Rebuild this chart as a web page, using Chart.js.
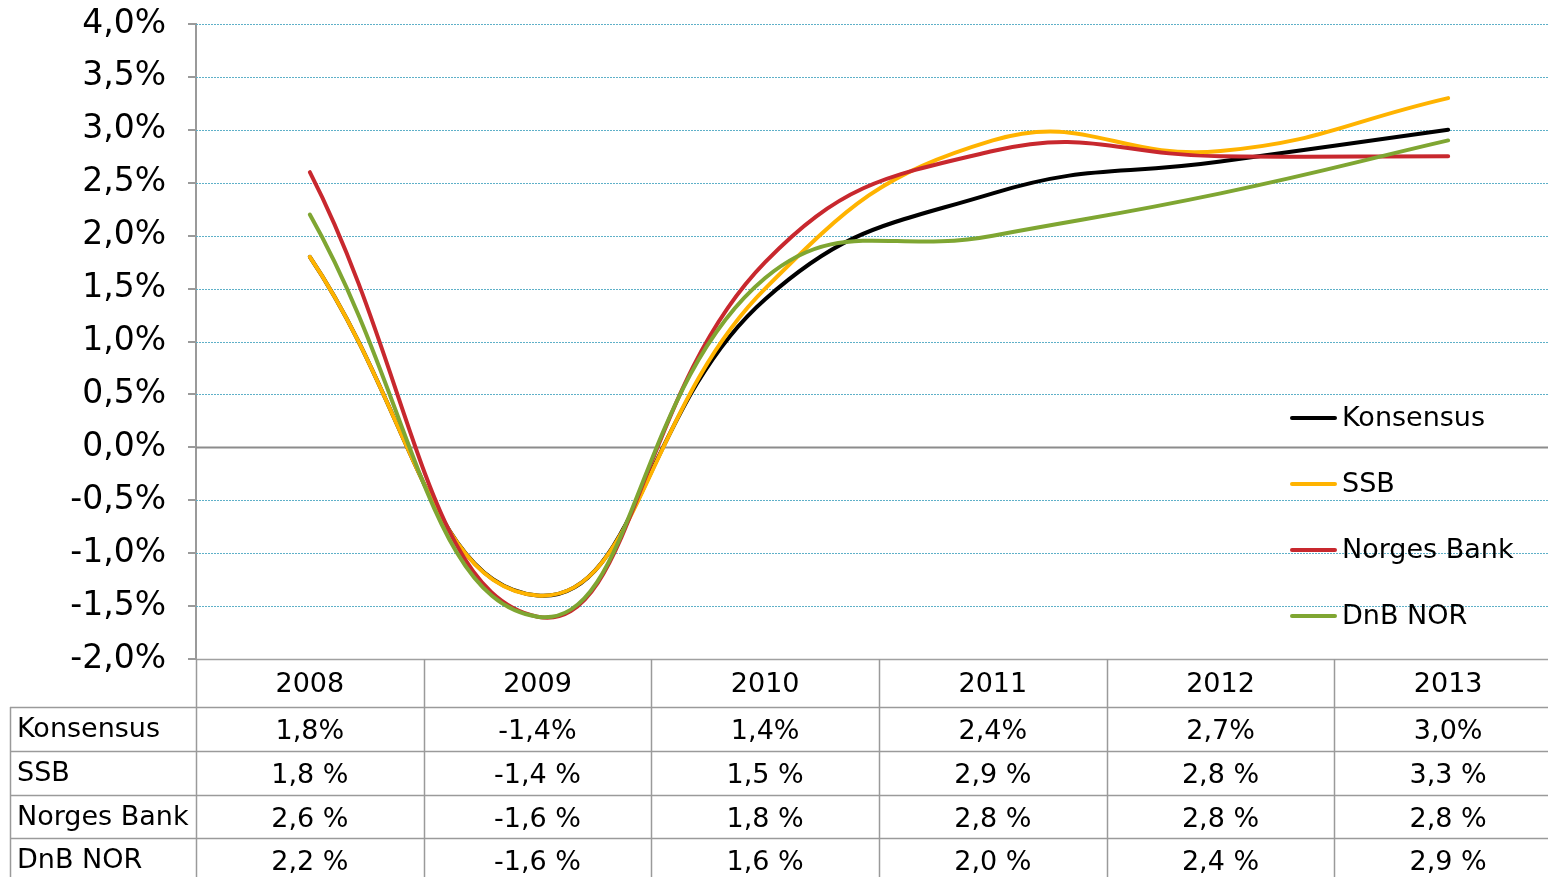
<!DOCTYPE html>
<html>
<head>
<meta charset="utf-8">
<script src="https://cdn.jsdelivr.net/npm/chart.js@4"></script>
<style>
  html, body { margin: 0; padding: 0; background: #fff; overflow: hidden; }
  #wrap { width: 1548px; height: 877px; overflow: hidden; }
  canvas { display: block; }
</style>
</head>
<body>
<div id="wrap"><canvas id="myChart" width="1562" height="877"></canvas></div>
<script>
// data
const years = ['2008', '2009', '2010', '2011', '2012', '2013'];
const seriesNames = ['Konsensus', 'SSB', 'Norges Bank', 'DnB NOR'];
const konsensus = [1.8, -1.4, 1.4, 2.4, 2.7, 3.0];
const ssb = [1.8, -1.4, 1.5, 2.9, 2.8, 3.3];
const norgesBank = [2.6, -1.6, 1.75, 2.8, 2.75, 2.75];
const dnbNor = [2.2, -1.6, 1.6, 2.0, 2.4, 2.9];
const yTicks = [-2.0, -1.5, -1.0, -0.5, 0.0, 0.5, 1.0, 1.5, 2.0, 2.5, 3.0, 3.5, 4.0];

const colors = ['#000000', '#FFB300', '#C8282E', '#7FA632'];
const FONT = "'DejaVu Sans', Verdana, sans-serif";

const fmt = (v, space) => v.toFixed(1).replace('.', ',') + (space ? ' %' : '%');

// gridlines (dotted), zero line
const gridPlugin = {
  id: 'grid',
  beforeDatasetsDraw(chart) {
    const { ctx, chartArea: a, scales: { y } } = chart;
    ctx.save();
    yTicks.forEach(v => {
      const py = Math.round(y.getPixelForValue(v)) + 0.5;
      ctx.beginPath();
      if (v === 0) {
        ctx.setLineDash([]);
        ctx.strokeStyle = '#8c8c8c';
        ctx.lineWidth = 2;
      } else if (v === -2) {
        ctx.setLineDash([]);
        ctx.strokeStyle = '#a0a0a0';
        ctx.lineWidth = 1.5;
      } else {
        ctx.setLineDash([2, 1]);
        ctx.strokeStyle = '#5fb0c8';
        ctx.lineWidth = 1;
      }
      ctx.moveTo(a.left, py);
      ctx.lineTo(a.right, py);
      ctx.stroke();
    });
    ctx.restore();
  }
};

// data table + legend
const tablePlugin = {
  id: 'table',
  afterDraw(chart) {
    const { ctx, chartArea: a, scales: { x } } = chart;
    const step = x.getPixelForValue(1) - x.getPixelForValue(0);
    const rowH = 43.8;
    const top = a.bottom;
    const headH = 48;
    ctx.save();
    ctx.strokeStyle = '#9a9a9a';
    ctx.lineWidth = 1.5;
    ctx.setLineDash([]);

    // vertical lines
    for (let i = 0; i <= years.length; i++) {
      const px = Math.round(x.getPixelForValue(i) - step / 2) + 0.5;
      ctx.beginPath();
      ctx.moveTo(px, top);
      ctx.lineTo(px, 900);
      ctx.stroke();
    }
    // left border for rows
    ctx.beginPath();
    ctx.moveTo(10.5, top + headH);
    ctx.lineTo(10.5, 900);
    ctx.stroke();
    // horizontal lines
    for (let r = 0; r <= seriesNames.length; r++) {
      const py = Math.round(top + headH + r * rowH) + 0.5;
      ctx.beginPath();
      ctx.moveTo(10, py);
      ctx.lineTo(a.right, py);
      ctx.stroke();
    }

    ctx.fillStyle = '#000';
    ctx.font = '27px ' + FONT;
    ctx.textBaseline = 'middle';
    ctx.textAlign = 'center';
    years.forEach((yr, i) => ctx.fillText(yr, x.getPixelForValue(i), top + headH / 2 + 2));

    const rows = [konsensus, ssb, norgesBank, dnbNor];
    rows.forEach((vals, r) => {
      const cy = top + headH + r * rowH + rowH / 2 + 1;
      ctx.textAlign = 'left';
      ctx.fillText(seriesNames[r], 17, cy);
      ctx.textAlign = 'center';
      vals.forEach((v, i) => ctx.fillText(fmt(v, r > 0), x.getPixelForValue(i), cy + 2));
    });

    // legend
    ctx.lineCap = 'round';
    ctx.lineWidth = 4;
    seriesNames.forEach((name, i) => {
      const ly = 418 + i * 66;
      ctx.strokeStyle = colors[i];
      ctx.beginPath();
      ctx.moveTo(1292, ly);
      ctx.lineTo(1335, ly);
      ctx.stroke();
      ctx.textAlign = 'left';
      ctx.fillText(name, 1342, ly + 1);
    });
    ctx.restore();
  }
};

const seriesData = [konsensus, ssb, norgesBank, dnbNor];
const ctx = document.getElementById('myChart').getContext('2d');
new Chart(ctx, {
  type: 'line',
  data: {
    labels: years,
    datasets: seriesNames.map((name, i) => ({
      label: name,
      data: seriesData[i],
      borderColor: colors[i],
      borderWidth: 4,
      borderCapStyle: 'round',
      pointRadius: 0,
      tension: 0.45,
      fill: false,
      order: seriesNames.length - i
    }))
  },
  options: {
    responsive: false,
    animation: false,
    layout: { padding: { top: 0, bottom: 218, left: 0, right: 0 } },
    plugins: { legend: { display: false }, tooltip: { enabled: false } },
    scales: {
      x: { type: 'category', offset: true, display: false },
      y: {
        min: -2, max: 4,
        afterFit(scale) { scale.width = 196; scale.paddingTop = 24; scale.paddingBottom = 0; },
        afterBuildTicks(scale) { scale.ticks = yTicks.map(v => ({ value: v })); },
        ticks: {
          color: '#000',
          padding: 22,
          font: { size: 33, family: FONT },
          callback: v => fmt(v, false)
        },
        grid: { drawOnChartArea: false, drawTicks: true, tickLength: 8, color: '#9a9a9a', lineWidth: 2 },
        border: { display: true, color: '#9a9a9a', width: 2 }
      }
    }
  },
  plugins: [gridPlugin, tablePlugin]
});
</script>
</body>
</html>
